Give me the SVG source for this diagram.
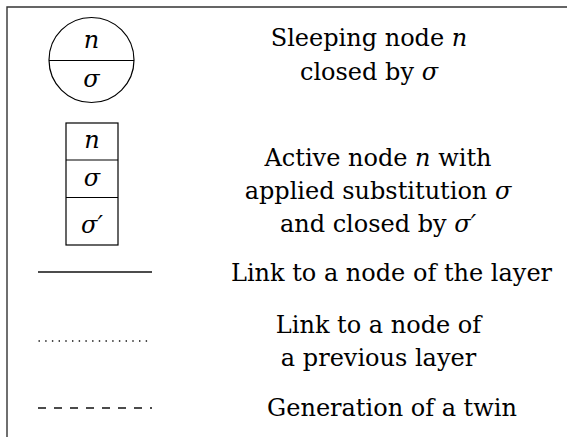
<svg xmlns="http://www.w3.org/2000/svg" width="567" height="437" viewBox="0 0 567 437">
<style>
  .frame { fill: none; stroke: #333; stroke-width: 1.4; }
  .shape { fill: #fff; stroke: #000; stroke-width: 1.2; }
  .sep { stroke: #000; stroke-width: 1.2; }
  .lbl { font-family: "DejaVu Serif", serif; font-size: 24px; fill: #000; text-anchor: middle; }
  .it { font-style: italic; }
  .solid { stroke: #111; stroke-width: 1.4; fill: none; }
  .dotted { stroke: #111; stroke-width: 1.4; stroke-dasharray: 1.4 5.3; fill: none; }
  .dashed { stroke: #111; stroke-width: 1.4; stroke-dasharray: 8 8; fill: none; }
</style>
<rect width="567" height="437" fill="#fff"/>
<path class="frame" d="M7,437 V7 H567"/>

<g id="sleeping-node">
  <circle class="shape" cx="91.5" cy="60" r="42.5"/>
  <line class="sep" x1="49" y1="60.5" x2="134" y2="60.5"/>
  <text class="lbl it" x="91.5" y="48">n</text>
  <text class="lbl it" x="91.5" y="87">σ</text>
</g>

<g id="active-node">
  <rect class="shape" x="66" y="123" width="52" height="122"/>
  <line class="sep" x1="66" y1="160" x2="118" y2="160"/>
  <line class="sep" x1="66" y1="197.5" x2="118" y2="197.5"/>
  <text class="lbl it" x="92" y="148">n</text>
  <text class="lbl it" x="92" y="186">σ</text>
  <text class="lbl it" x="92" y="233">σ′</text>
</g>

<g id="legend-texts">
  <text class="lbl" x="369" y="46">Sleeping node <tspan class="it">n</tspan></text>
  <text class="lbl" x="369" y="80">closed by <tspan class="it">σ</tspan></text>
  <text class="lbl" x="378" y="166">Active node <tspan class="it">n</tspan> with</text>
  <text class="lbl" x="378" y="199">applied substitution <tspan class="it">σ</tspan></text>
  <text class="lbl" x="378" y="232">and closed by <tspan class="it">σ′</tspan></text>
  <text class="lbl" x="391.5" y="281">Link to a node of the layer</text>
  <text class="lbl" x="378.5" y="333">Link to a node of</text>
  <text class="lbl" x="378.5" y="366">a previous layer</text>
  <text class="lbl" x="392" y="416">Generation of a twin</text>
</g>

<g id="connectors">
  <line class="solid" x1="38" y1="272" x2="152" y2="272"/>
  <line class="dotted" x1="38.5" y1="341" x2="152" y2="341"/>
  <line class="dashed" x1="38" y1="408" x2="152" y2="408"/>
</g>
</svg>
